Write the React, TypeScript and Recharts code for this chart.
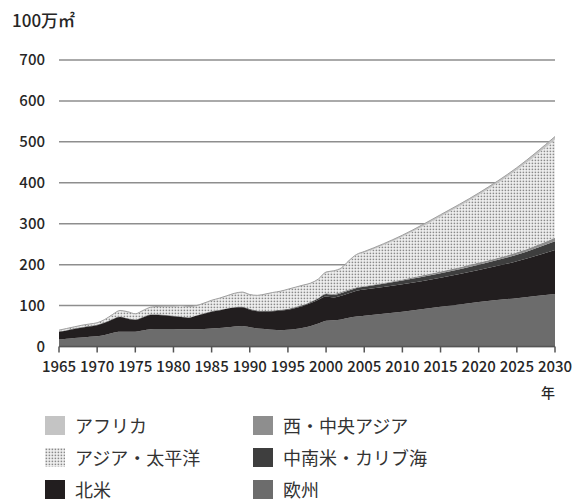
import React from "react";
import { AreaChart, Area, XAxis, YAxis, CartesianGrid } from "recharts";

const years = [1965,1966,1967,1968,1969,1970,1971,1972,1973,1974,1975,1976,1977,1978,1979,1980,1981,1982,1983,1984,1985,1986,1987,1988,1989,1990,1991,1992,1993,1994,1995,1996,1997,1998,1999,2000,2001,2002,2003,2004,2005,2010,2015,2020,2025,2030];
const europe = [17,19,21,22,24,25,28,33,36,36,36,39,42,43,43,43,42,42,42,43,44,45,47,49,50,47,44,43,41,40,41,43,46,50,56,63,64,66,70,73,75,85,97,109,118,128];
const northAmerica = [19,20,22,24,25,27,30,33,36,32,29,32,35,34,33,31,30,28,33,37,41,43,45,46,46,43,42,42,45,48,49,51,53,56,58,59,56,58,60,63,64,67,71,78,90,108];
const latinAmerica = [1,1,1,1,1,1,1,1,1,1,1,1,1,1,1,1,1,1,1,1,1,1,1,1,1,1.5,1.5,1.5,1.5,1.5,1.5,2,2,3,4,6,6,7,7,7,7,9,11,13,16,21];
const westCentralAsia = [0.5,0.5,0.5,0.5,0.5,0.5,0.5,0.5,0.5,0.5,0.5,0.5,0.5,0.5,0.5,0.5,0.5,0.5,0.5,0.5,0.5,0.5,0.5,0.5,0.5,0.5,0.5,0.5,0.5,0.5,0.5,1,1,1,1,2,3,3,3,2,2,3,4,5,6,9];
const asiaPacific = [1.5,2.5,2.5,3.5,3.5,3.5,5.5,9.5,13.5,14.5,12.5,14.5,16.5,18.5,20.5,22.5,25.5,25.5,22.5,23.5,25.5,27.5,29.5,32.5,34.5,34,36,40,43,44,47,47,47,44,45,50,54,56,68,78,81,104,134,165,201,240];
const africa = [1,1,1,1,1,1,1,1,1,1,1,1,1,1,1,1,1,1,1,1,1,1,1,1,1,1,1,1,1,1,1,1,1,1,1,2,2,2,2,2,3,4,5,5,6,7];

const xTicks = [1965,1970,1975,1980,1985,1990,1995,2000,2005,2010,2015,2020,2025,2030];
const yTicks = [0,100,200,300,400,500,600,700];

const seriesNames = {
  europe: "欧州",
  northAmerica: "北米",
  latinAmerica: "中南米・カリブ海",
  westCentralAsia: "西・中央アジア",
  asiaPacific: "アジア・太平洋",
  africa: "アフリカ",
};

const data = years.map((y, i) => ({
  year: y,
  europe: europe[i],
  northAmerica: northAmerica[i],
  latinAmerica: latinAmerica[i],
  westCentralAsia: westCentralAsia[i],
  asiaPacific: asiaPacific[i],
  africa: africa[i],
}));

const FONT = '"Noto Sans CJK JP", "Noto Sans", sans-serif';
const TEXT = "#262626";

const colors = {
  europe: "#6c6c6c",
  northAmerica: "#221e1f",
  latinAmerica: "#3e3e3e",
  westCentralAsia: "#8e8e8e",
  asiaPacific: "url(#dots)",
  africa: "#c4c4c4",
};

const legendItems: { key: keyof typeof seriesNames; col: number; row: number }[] = [
  { key: "africa", col: 0, row: 0 },
  { key: "asiaPacific", col: 0, row: 1 },
  { key: "northAmerica", col: 0, row: 2 },
  { key: "westCentralAsia", col: 1, row: 0 },
  { key: "latinAmerica", col: 1, row: 1 },
  { key: "europe", col: 1, row: 2 },
];

function DotPattern({ id }: { id: string }) {
  return (
    <pattern id={id} patternUnits="userSpaceOnUse" width={3} height={3}>
      <rect width={3} height={3} fill="#f4f4f4" />
      <rect x={0.6} y={0.6} width={1.6} height={1.6} fill="#8a8a8a" />
    </pattern>
  );
}

function Swatch({ k }: { k: string }) {
  return (
    <svg width={20} height={19} style={{ display: "block" }}>
      <defs>
        <DotPattern id={"sw" + k} />
      </defs>
      <rect width={20} height={19} fill={k === "asiaPacific" ? "url(#sw" + k + ")" : (colors as any)[k]} />
    </svg>
  );
}

export default function App() {
  return (
    <div style={{ position: "absolute", left: 0, top: 0, width: 578, height: 501, background: "#fff", fontFamily: FONT, overflow: "hidden" }}>
      <div style={{ position: "absolute", left: 12, top: 9, fontSize: 17, fontWeight: 500, color: TEXT, lineHeight: "22px" }}>100万㎡</div>
      <AreaChart
        width={578}
        height={380}
        data={data}
        margin={{ top: 60, right: 23, bottom: 0, left: 0 }}
      >
        <defs>
          <DotPattern id="dots" />
        </defs>
        <CartesianGrid vertical={false} stroke="#8e8e8e" strokeWidth={1.5} />
        <XAxis
          dataKey="year"
          type="number"
          domain={[1965, 2030]}
          ticks={xTicks}
          height={33.5}
          interval={0}
          stroke="#555"
          strokeWidth={1.5}
          tickSize={6}
          tickMargin={9}
          tick={{ fill: TEXT, fontSize: 15, fontFamily: FONT, fontWeight: 500 }}
        />
        <YAxis
          domain={[0, 700]}
          ticks={yTicks}
          width={59}
          axisLine={false}
          tickLine={false}
          tickMargin={8}
          tick={{ fill: TEXT, fontSize: 15, fontFamily: FONT, fontWeight: 500 }}
        />
        <Area type="monotone" dataKey="europe" name={seriesNames.europe} stackId="1" stroke="none" fill={colors.europe} fillOpacity={1} isAnimationActive={false} />
        <Area type="monotone" dataKey="northAmerica" name={seriesNames.northAmerica} stackId="1" stroke="none" fill={colors.northAmerica} fillOpacity={1} isAnimationActive={false} />
        <Area type="monotone" dataKey="latinAmerica" name={seriesNames.latinAmerica} stackId="1" stroke="none" fill={colors.latinAmerica} fillOpacity={1} isAnimationActive={false} />
        <Area type="monotone" dataKey="westCentralAsia" name={seriesNames.westCentralAsia} stackId="1" stroke="none" fill={colors.westCentralAsia} fillOpacity={1} isAnimationActive={false} />
        <Area type="monotone" dataKey="asiaPacific" name={seriesNames.asiaPacific} stackId="1" stroke="none" fill={colors.asiaPacific} fillOpacity={1} isAnimationActive={false} />
        <Area type="monotone" dataKey="africa" name={seriesNames.africa} stackId="1" stroke="#a0a0a0" strokeWidth={1} fill={colors.africa} fillOpacity={1} isAnimationActive={false} />
      </AreaChart>
      <div style={{ position: "absolute", left: 541, top: 383, fontSize: 14, fontWeight: 500, color: TEXT, lineHeight: "18px" }}>年</div>
      {legendItems.map((it) => (
        <div
          key={it.key}
          style={{
            position: "absolute",
            left: it.col === 0 ? 45 : 253,
            top: 416 + it.row * 32,
            height: 19,
            display: "flex",
            alignItems: "center",
            whiteSpace: "nowrap",
          }}
        >
          <Swatch k={it.key} />
          <span style={{ marginLeft: 10, fontSize: 18, color: "#333", lineHeight: "19px" }}>{seriesNames[it.key]}</span>
        </div>
      ))}
    </div>
  );
}
